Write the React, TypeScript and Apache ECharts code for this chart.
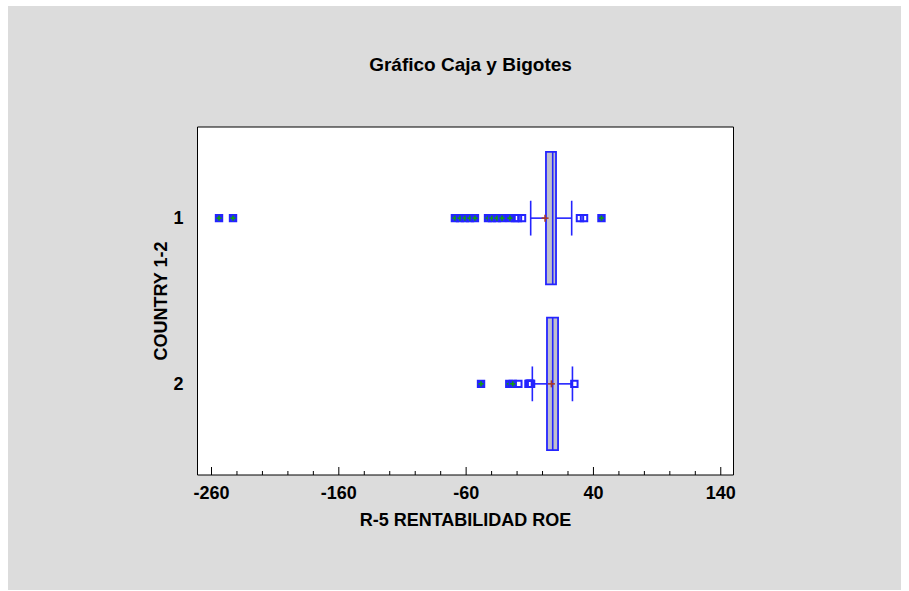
import React, { useEffect, useRef } from 'react';
import * as echarts from 'echarts';

// ---- data ----
const categories = [1, 2];
const xMajorTicks = [-260, -160, -60, 40, 140];
const xMinorTicks = [-240, -220, -200, -180, -140, -120, -100, -80, -40, -20, 0, 20, 60, 80, 100, 120];
// box statistics per category
const lowWhisker = [-9.3, -8.0];
const q1 = [2.7, 3.5];
const median = [8.0, 8.0];
const q3 = [10.6, 12.2];
const highWhisker = [22.9, 23.5];
const means = [2.0, 7.0];
// outside points (plain squares) and far outside points (squares with plus)
const outside1 = [-21.6, -19.3, -16.1, 29.4, 32.6];
const farOutside1 = [-254.1, -243.1, -68.8, -64.8, -60.9, -57.0, -53.1, -42.8, -39.7, -35.8, -31.8, -25.6, 46.3];
const outside2 = [-19.0, -11.0, -10.6, -10.2, -9.8, -9.4, -9.0, 25.0];
const farOutside2 = [-48.3, -26.1, -23.4];

const X_MIN = -271;
const X_MAX = 150;
const Y_MIN = 0.45;
const Y_MAX = 2.55;

const FONT = "'Liberation Sans', Arial, sans-serif";
const FS = 18;
const BLUE = '#2424ff';
const GREEN = '#139a13';

export default function App() {
  const ref = useRef<HTMLDivElement>(null);
  useEffect(() => {
    if (!ref.current) return;
    const chart = echarts.init(ref.current, undefined, { renderer: 'svg' });

    const boxData = categories.map((c, i) => [c, lowWhisker[i], q1[i], median[i], q3[i], highWhisker[i], means[i]]);
    const outlierData: number[][] = [];
    outside1.forEach((v) => outlierData.push([v, categories[0], 0]));
    farOutside1.forEach((v) => outlierData.push([v, categories[0], 1]));
    outside2.forEach((v) => outlierData.push([v, categories[1], 0]));
    farOutside2.forEach((v) => outlierData.push([v, categories[1], 1]));
    const tickData = [
      ...xMajorTicks.map((v) => [v, Y_MAX, 1]),
      ...xMinorTicks.map((v) => [v, Y_MAX, 0]),
    ];

    const textStyle = { fontFamily: FONT, fontWeight: 'bold', fontSize: FS, color: '#000' };

    const option: any = {
      animation: false,
      backgroundColor: '#dcdcdc',
      title: {
        text: 'Gráfico Caja y Bigotes',
        left: 457.5,
        textAlign: 'center',
        top: 44,
        textStyle: { ...textStyle, fontSize: 19 },
      },
      grid: {
        left: 189.5,
        top: 121,
        right: 167.5,
        bottom: 115,
        show: true,
        backgroundColor: '#fff',
        borderColor: '#000',
        borderWidth: 1,
        outerBoundsMode: 'none',
        containLabel: false,
      },
      xAxis: {
        type: 'value',
        min: X_MIN,
        max: X_MAX,
        interval: 1,
        name: 'R-5 RENTABILIDAD ROE',
        nameLocation: 'middle',
        nameGap: 36,
        nameMoveOverlap: false,
        nameTextStyle: textStyle,
        axisLine: { show: false },
        axisTick: { show: false },
        splitLine: { show: false },
        axisLabel: {
          margin: 9,
          ...textStyle,
          formatter: (v: number) => {
            const r = Math.round(v);
            return Math.abs(v - r) < 1e-6 && xMajorTicks.includes(r) ? String(r) : '';
          },
        },
      },
      yAxis: {
        type: 'value',
        inverse: true,
        min: Y_MIN,
        max: Y_MAX,
        interval: 0.05,
        name: 'COUNTRY 1-2',
        nameLocation: 'middle',
        nameRotate: 90,
        nameGap: 28,
        nameMoveOverlap: false,
        nameTextStyle: textStyle,
        axisLine: { show: false },
        axisTick: { show: false },
        splitLine: { show: false },
        axisLabel: {
          margin: 14,
          ...textStyle,
          formatter: (v: number) => {
            const r = Math.round(v);
            return Math.abs(v - r) < 1e-6 && categories.includes(r) ? String(r) : '';
          },
        },
      },
      series: [
        {
          type: 'custom',
          name: 'ticks',
          data: tickData,
          encode: { x: 0, y: 1 },
          silent: true,
          renderItem: (params: any, api: any) => {
            const p = api.coord([api.value(0), api.value(1)]);
            const len = api.value(2) ? 8 : 4;
            return {
              type: 'line',
              shape: { x1: p[0], y1: p[1], x2: p[0], y2: p[1] - len },
              style: { stroke: '#000', lineWidth: 1 },
            };
          },
        },
        {
          type: 'custom',
          name: 'outliers',
          data: outlierData,
          encode: { x: 0, y: 1 },
          silent: true,
          renderItem: (params: any, api: any) => {
            const p = api.coord([api.value(0), api.value(1)]);
            const s = 3.2;
            const far = api.value(2);
            const children: any[] = [
              {
                type: 'rect',
                shape: { x: p[0] - s, y: p[1] - s, width: 2 * s, height: 2 * s },
                style: { fill: far ? BLUE : 'none', stroke: BLUE, lineWidth: 2 },
              },
            ];
            if (far) {
              children.push(
                { type: 'line', shape: { x1: p[0] - 2.6, y1: p[1], x2: p[0] + 2.6, y2: p[1] }, style: { stroke: GREEN, lineWidth: 1.6 } },
                { type: 'line', shape: { x1: p[0], y1: p[1] - 2.6, x2: p[0], y2: p[1] + 2.6 }, style: { stroke: GREEN, lineWidth: 1.6 } },
              );
            }
            return { type: 'group', children };
          },
        },
        {
          type: 'custom',
          name: 'box',
          data: boxData,
          encode: { x: [1, 2, 3, 4, 5, 6], y: 0 },
          silent: true,
          renderItem: (params: any, api: any) => {
            const y = api.value(0);
            const lo = api.coord([api.value(1), y]);
            const a = api.coord([api.value(2), y]);
            const m = api.coord([api.value(3), y]);
            const b = api.coord([api.value(4), y]);
            const hi = api.coord([api.value(5), y]);
            const mn = api.coord([api.value(6), y]);
            const unit = api.size([0, 1])[1];
            const bh = unit * 0.4;
            const ch = unit * 0.105;
            const ls = { stroke: BLUE, lineWidth: 1.6 };
            return {
              type: 'group',
              children: [
                { type: 'line', shape: { x1: lo[0], y1: lo[1], x2: a[0], y2: a[1] }, style: ls },
                { type: 'line', shape: { x1: b[0], y1: b[1], x2: hi[0], y2: hi[1] }, style: ls },
                { type: 'line', shape: { x1: lo[0], y1: lo[1] - ch, x2: lo[0], y2: lo[1] + ch }, style: ls },
                { type: 'line', shape: { x1: hi[0], y1: hi[1] - ch, x2: hi[0], y2: hi[1] + ch }, style: ls },
                {
                  type: 'rect',
                  shape: { x: a[0], y: a[1] - bh, width: b[0] - a[0], height: 2 * bh },
                  style: { fill: '#c0c0cc', stroke: BLUE, lineWidth: 1.8 },
                },
                { type: 'line', shape: { x1: m[0], y1: m[1] - bh, x2: m[0], y2: m[1] + bh }, style: ls },
                { type: 'line', shape: { x1: mn[0] - 3.5, y1: mn[1], x2: mn[0] + 3.5, y2: mn[1] }, style: { stroke: '#a83a2a', lineWidth: 1.6 } },
                { type: 'line', shape: { x1: mn[0], y1: mn[1] - 3.5, x2: mn[0], y2: mn[1] + 3.5 }, style: { stroke: '#a83a2a', lineWidth: 1.6 } },
              ],
            };
          },
        },
      ],
    };

    chart.setOption(option);
    return () => chart.dispose();
  }, []);

  return (
    <div
      ref={ref}
      style={{ position: 'absolute', left: 8, top: 6, width: 893, height: 584 }}
    />
  );
}
